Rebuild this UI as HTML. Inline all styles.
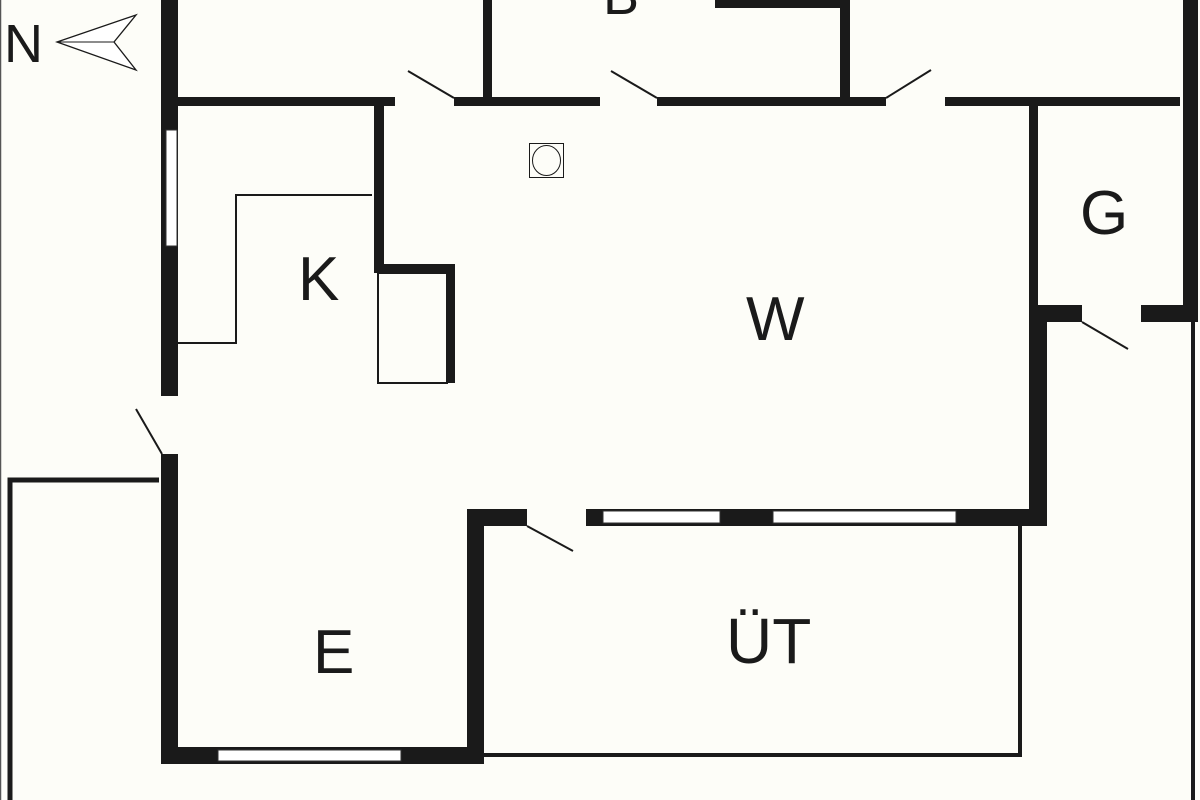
<!DOCTYPE html>
<html><head><style>html,body{margin:0;padding:0;background:#fdfdf8}svg{display:block}text{font-family:"Liberation Sans",sans-serif;fill:#1a1a1a}</style></head>
<body>
<svg width="1200" height="800" viewBox="0 0 1200 800" xmlns="http://www.w3.org/2000/svg">
<rect width="1200" height="800" fill="#fdfdf8"/>
<line x1="0.5" y1="0" x2="0.5" y2="800" stroke="#555" stroke-width="1.5"/>
<g fill="#1a1a1a">
<rect x="161" y="0" width="17" height="396"/>
<rect x="161" y="454" width="17" height="310"/>
<rect x="178" y="97" width="217" height="9"/>
<rect x="454" y="97" width="146" height="9"/>
<rect x="483" y="0" width="9" height="100"/>
<rect x="657" y="97" width="229" height="9"/>
<rect x="840" y="0" width="10" height="106"/>
<rect x="715" y="0" width="135" height="8"/>
<rect x="945" y="97" width="235" height="9"/>
<rect x="1183" y="0" width="15" height="322"/>
<rect x="374" y="106" width="10" height="167"/>
<rect x="374" y="264" width="81" height="9"/>
<rect x="446" y="264" width="9" height="119"/>
<rect x="1029" y="106" width="9" height="200"/>
<rect x="1029" y="305" width="53" height="17"/>
<rect x="1141" y="305" width="57" height="17"/>
<rect x="1029" y="305" width="18" height="221"/>
<rect x="586" y="509" width="461" height="17"/>
<rect x="467" y="509" width="60" height="17"/>
<rect x="467" y="509" width="17" height="255"/>
<rect x="161" y="747" width="323" height="17"/>
</g>
<g fill="#fff" stroke="#333" stroke-width="1">
<rect x="166" y="130" width="11" height="116"/>
<rect x="603" y="511" width="117" height="12"/>
<rect x="773" y="511" width="183" height="12"/>
<rect x="218" y="750" width="183" height="11"/>
</g>
<g fill="none" stroke="#1a1a1a" stroke-width="2">
<rect x="378" y="273" width="69" height="110"/>
<polyline points="372,195 236,195 236,343 178,343"/>
<rect x="529.5" y="143.5" width="34" height="34" stroke-width="1"/>
<ellipse cx="546.5" cy="160.5" rx="14" ry="15" stroke-width="1"/>
<polyline points="10,800 10,480 159,480" stroke-width="5"/>
<polyline points="484,755 1020,755 1020,526" stroke-width="4"/>
<line x1="1193" y1="322" x2="1193" y2="800" stroke-width="4"/>
<line x1="454" y1="98" x2="408" y2="71"/>
<line x1="657" y1="98" x2="611" y2="71"/>
<line x1="886" y1="98" x2="931" y2="70"/>
<line x1="1082" y1="322" x2="1128" y2="349"/>
<line x1="162" y1="454" x2="136" y2="409"/>
<line x1="527" y1="526" x2="573" y2="551"/>
</g>
<polygon points="57,42 136,15 114,42 136,70" fill="#fff" stroke="#1a1a1a" stroke-width="1.3"/>
<line x1="57" y1="42" x2="114" y2="42" stroke="#1a1a1a" stroke-width="1"/>
<text x="4" y="62" font-size="54">N</text>
<text x="603" y="14" font-size="54">B</text>
<text x="298" y="300" font-size="62">K</text>
<text x="746" y="340" font-size="62">W</text>
<text x="1080" y="234" font-size="62">G</text>
<text x="313" y="673" font-size="62">E</text>
<text x="726" y="663" font-size="64">ÜT</text>
</svg>
</body></html>
